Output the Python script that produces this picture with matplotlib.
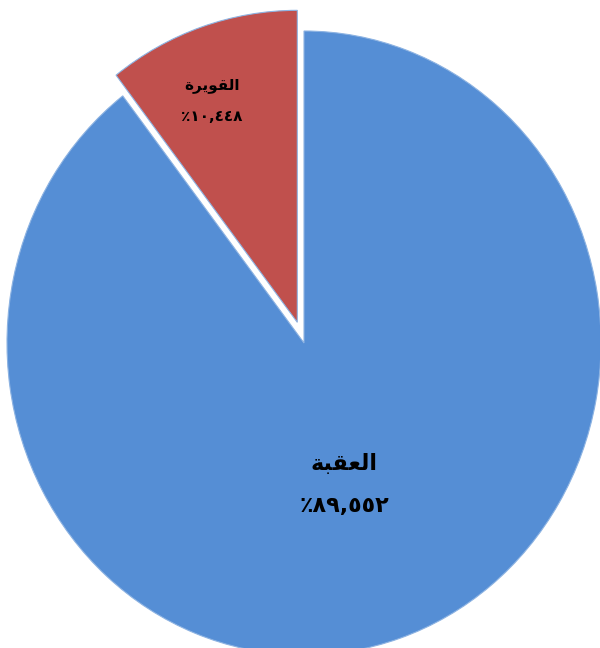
import numpy as np
import matplotlib.pyplot as plt

# share of each site, red slice first so it starts at 12 o'clock
names = ["\uFE93\uFEAE\uFEF3\uFEEE\uFED8\uFEDF\uFE8D",   # القويرة (shaped, visual order)
         "\uFE94\uFE92\uFED8\uFECC\uFEDF\uFE8D"]          # العقبة
shares = [10.448, 89.552]
share_text = ["٪١٠,٤٤٨", "٪٨٩,٥٥٢"]
colors = ["#C0504D", "#558ED5"]
explode = [0.07, 0]

fig = plt.figure(figsize=(6, 6.48), dpi=100)
# pie is a bit taller than wide and runs off the bottom edge
ax = fig.add_axes([7 / 600, -7 / 648, 594 / 600, 624 / 648])

wedges, _ = ax.pie(shares, colors=colors, explode=explode, startangle=90,
                   counterclock=True, radius=1, frame=True,
                   wedgeprops=dict(edgecolor="#8DB3E2", linewidth=0.8))
ax.set_xlim(-1, 1)
ax.set_ylim(-1, 1)
ax.set_aspect("auto")
ax.axis("off")

label_r = [0.75, 0.48]
nudge = [-0.045, -0.02]
sizes = [11, 16]
gaps = [0.1, 0.135]
for w, name, pct, r, dx, fs, g in zip(wedges, names, share_text, label_r,
                                      nudge, sizes, gaps):
    mid = np.deg2rad((w.theta1 + w.theta2) / 2)
    cx, cy = w.center
    x = cx + r * np.cos(mid) + dx
    y = cy + r * np.sin(mid)
    ax.text(x, y + g / 2, name, ha="center", va="center", fontsize=fs,
            fontweight="bold", color="black")
    ax.text(x, y - g / 2, pct, ha="center", va="center", fontsize=fs,
            fontweight="bold", color="black")

fig.savefig("out.png", dpi=100)
